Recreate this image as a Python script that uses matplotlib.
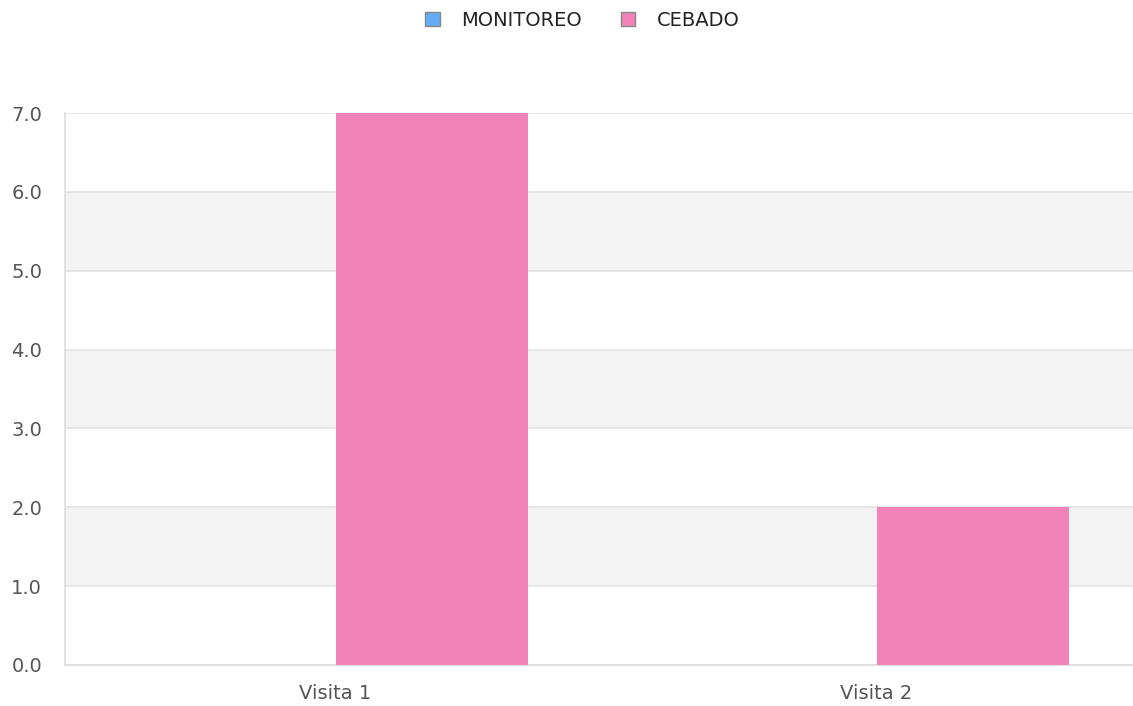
import matplotlib.pyplot as plt
from matplotlib.patches import Patch

# Data
categories = ["Visita 1", "Visita 2"]
monitoreo = [0, 0]
cebado = [7, 2]
yticks = [0, 1, 2, 3, 4, 5, 6, 7]

blue = "#63adf7"
pink = "#f283b9"

fig = plt.figure(figsize=(11.33, 7.06), dpi=100)
ax = fig.add_axes([65 / 1133, 41 / 706, 1 - 65 / 1133, (665 - 113) / 706])

x = list(range(len(categories)))
w = 0.355
ax.bar([i - w / 2 for i in x], monitoreo, width=w, color=blue, zorder=3)
ax.bar([i + w / 2 for i in x], cebado, width=w, color=pink, zorder=3)

# alternating bands
for lo in range(1, 7, 2):
    ax.axhspan(lo, lo + 1, color="#f3f3f3", zorder=0, lw=0)
for t in yticks:
    ax.axhline(t, color="#e2e2e2", lw=1.2, zorder=1)

ax.set_xlim(-0.5, -0.5 + (1133 - 65) / 541)
ax.set_ylim(0, 7)
ax.set_yticks(yticks)
ax.set_yticklabels([f"{t:.1f}" for t in yticks])
ax.set_xticks(x)
ax.set_xticklabels(categories)
ax.tick_params(length=0, labelsize=14, colors="#555555")
ax.tick_params(axis="y", pad=16.5)
ax.tick_params(axis="x", pad=14)

for s in ["top", "right"]:
    ax.spines[s].set_visible(False)
for s in ["left", "bottom"]:
    ax.spines[s].set_color("#dddddd")
    ax.spines[s].set_linewidth(1.2)

handles = [Patch(facecolor=blue, edgecolor="#888888", label="MONITOREO"),
           Patch(facecolor=pink, edgecolor="#888888", label="CEBADO")]
leg = fig.legend(handles=handles, loc="center", bbox_to_anchor=(0.514, 1 - 20 / 706), ncol=2,
                 frameon=False, fontsize=14, handlelength=0.75, handleheight=0.75,
                 columnspacing=2.0, handletextpad=1.1, borderpad=0)
for t in leg.get_texts():
    t.set_color("#222222")

fig.savefig("out.png", dpi=100)
